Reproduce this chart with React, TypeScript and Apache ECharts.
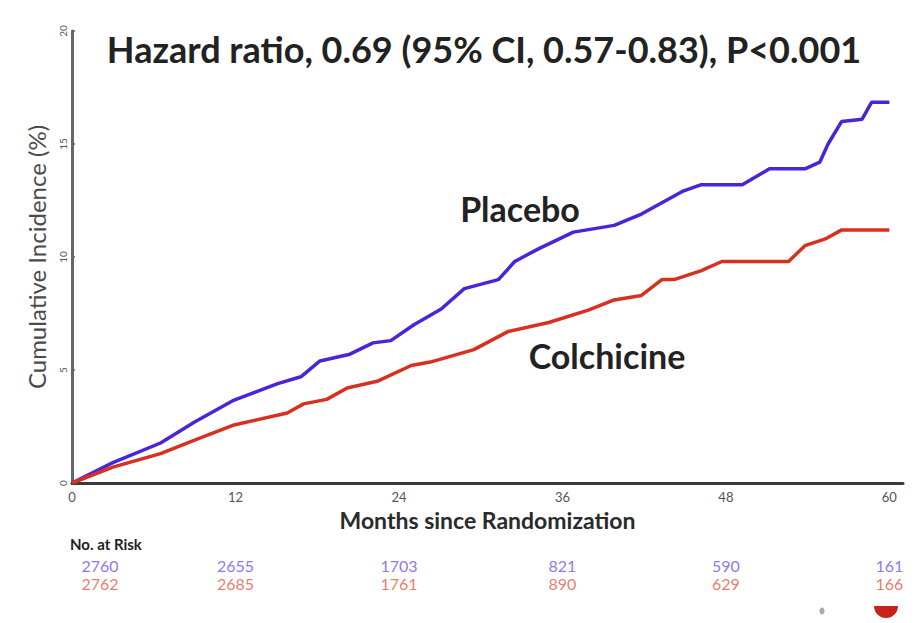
import React, { useEffect, useRef } from 'react';
import * as echarts from 'echarts';

const titleText = 'Hazard ratio, 0.69 (95% CI, 0.57-0.83), P<0.001';
const xTicks = [0, 12, 24, 36, 48, 60];
const yTicks = [0, 5, 10, 15, 20];

const placebo: [number, number][] = [
  [0, 0], [3, 0.9], [6.5, 1.77], [9, 2.7], [11.9, 3.67], [15.1, 4.4], [16.8, 4.7], [18.2, 5.4],
  [20.4, 5.7], [22.1, 6.2], [23.4, 6.3], [25.1, 7.0], [27.1, 7.7], [28.8, 8.6], [31.3, 9.0],
  [32.5, 9.8], [34.2, 10.35], [36.8, 11.1], [39.8, 11.4], [41.8, 11.9], [43.3, 12.4],
  [44.8, 12.9], [46.2, 13.2], [49.2, 13.2], [51.2, 13.9], [53.8, 13.9], [54.9, 14.2],
  [55.5, 15.0], [56.5, 16.0], [58, 16.1], [58.7, 16.85], [60, 16.85],
];

const colchicine: [number, number][] = [
  [0, 0], [3, 0.7], [6.5, 1.3], [9, 1.9], [11.9, 2.57], [15.8, 3.1], [17, 3.5], [18.7, 3.7],
  [20.2, 4.2], [22.4, 4.5], [24.9, 5.2], [26.3, 5.35], [29.5, 5.9], [32, 6.7], [35, 7.1],
  [37.9, 7.65], [39.8, 8.1], [41.8, 8.3], [43.3, 9.0], [44.2, 9.0], [46.2, 9.4], [47.7, 9.8],
  [52.6, 9.8], [53.8, 10.5], [55.3, 10.8], [56.5, 11.2], [60, 11.2],
];

const riskMonths = [0, 12, 24, 36, 48, 60];
const riskPlacebo = [2760, 2655, 1703, 821, 590, 161];
const riskColchicine = [2762, 2685, 1761, 890, 629, 166];

const BLUE = '#4a24d6';
const RED = '#d8301f';
const FONT = 'Lato, "Open Sans", sans-serif';

export default function App() {
  const ref = useRef<HTMLDivElement>(null);
  useEffect(() => {
    if (!ref.current) return;
    const chart = echarts.init(ref.current, undefined, { renderer: 'svg' });
    const gridLeft = 72;
    const gridRight = 15;
    const riskRow = (vals: number[], y: number) =>
      vals.map((v, i) => ({
        value: [riskMonths[i], y, v],
        label: i === 0 ? { offset: [28, 0] } : undefined,
      }));
    chart.setOption({
      animation: false,
      backgroundColor: '#ffffff',
      textStyle: { fontFamily: FONT },
      grid: [
        { left: gridLeft, right: gridRight, top: 31, bottom: 140 },
        { left: gridLeft, right: gridRight, top: 565, height: 18 },
      ],
      xAxis: [
        {
          type: 'value', gridIndex: 0, min: 0, max: 61, interval: 12,
          name: 'Months since Randomization', nameLocation: 'middle', nameGap: 25,
          nameTextStyle: { fontSize: 23, fontWeight: 'bold', color: '#2a2a2a', fontFamily: FONT },
          axisLine: { show: true, lineStyle: { color: '#3a3a3a', width: 3 } },
          axisTick: { show: false },
          splitLine: { show: false },
          axisLabel: {
            fontSize: 13, color: '#555', margin: 7, fontFamily: FONT,
            formatter: (v: number) => (xTicks.includes(v) ? String(v) : ''),
          },
        },
        { type: 'value', gridIndex: 1, min: 0, max: 61, show: false },
      ],
      yAxis: [
        {
          type: 'value', gridIndex: 0, min: 0, max: 20, interval: 5,
          name: 'Cumulative Incidence (%)', nameLocation: 'middle', nameGap: 24,
          nameTextStyle: { fontSize: 24, color: '#4a4a4a', fontFamily: FONT },
          axisLine: { show: true, lineStyle: { color: '#666', width: 3 } },
          axisTick: { show: true, inside: true, length: 3, lineStyle: { color: '#666', width: 1.5 } },
          splitLine: { show: false },
          axisLabel: {
            fontSize: 10, color: '#555', margin: 4, rotate: 90, fontFamily: FONT,
            formatter: (v: number) => (yTicks.includes(v) ? String(v) : ''),
          },
        },
        { type: 'value', gridIndex: 1, min: 0, max: 1, show: false },
      ],
      series: [
        {
          name: 'Placebo', type: 'line', xAxisIndex: 0, yAxisIndex: 0, data: placebo,
          showSymbol: false, lineStyle: { color: BLUE, width: 3.5 }, z: 3,
        },
        {
          name: 'Colchicine', type: 'line', xAxisIndex: 0, yAxisIndex: 0, data: colchicine,
          showSymbol: false, lineStyle: { color: RED, width: 3.5 }, z: 3,
        },
        {
          name: 'Risk Placebo', type: 'scatter', xAxisIndex: 1, yAxisIndex: 1,
          data: riskRow(riskPlacebo, 1), symbolSize: 0,
          label: {
            show: true, position: 'inside', formatter: (p: any) => String(p.value[2]),
            color: '#7252e8', fontSize: 16, fontFamily: FONT,
          },
        },
        {
          name: 'Risk Colchicine', type: 'scatter', xAxisIndex: 1, yAxisIndex: 1,
          data: riskRow(riskColchicine, 0), symbolSize: 0,
          label: {
            show: true, position: 'inside', formatter: (p: any) => String(p.value[2]),
            color: '#e25a44', fontSize: 16, fontFamily: FONT,
          },
        },
      ],
      graphic: [
        {
          type: 'text', x: 484, y: 49,
          style: {
            text: titleText, fill: '#222', font: `bold 36px ${FONT}`,
            textAlign: 'center', textVerticalAlign: 'middle',
          },
        },
        {
          type: 'text', x: 520, y: 208,
          style: { text: 'Placebo', fill: '#222', font: `bold 34px ${FONT}`, textAlign: 'center', textVerticalAlign: 'middle' },
        },
        {
          type: 'text', x: 607, y: 355,
          style: { text: 'Colchicine', fill: '#222', font: `bold 34px ${FONT}`, textAlign: 'center', textVerticalAlign: 'middle' },
        },
        {
          type: 'text', x: 70, y: 544,
          style: { text: 'No. at Risk', fill: '#222', font: `bold 15px ${FONT}`, textAlign: 'left', textVerticalAlign: 'middle' },
        },
        {
          type: 'ellipse', shape: { cx: 822, cy: 611, rx: 2.5, ry: 3.5 },
          style: { fill: '#aaa' },
        },
        {
          type: 'sector', shape: { cx: 886, cy: 606, r0: 0, r: 12, startAngle: 0, endAngle: Math.PI },
          style: { fill: '#c8201a' },
        },
      ],
    });
    return () => chart.dispose();
  }, []);
  return <div ref={ref} style={{ position: 'absolute', left: 0, top: 0, width: 918, height: 623 }} />;
}
